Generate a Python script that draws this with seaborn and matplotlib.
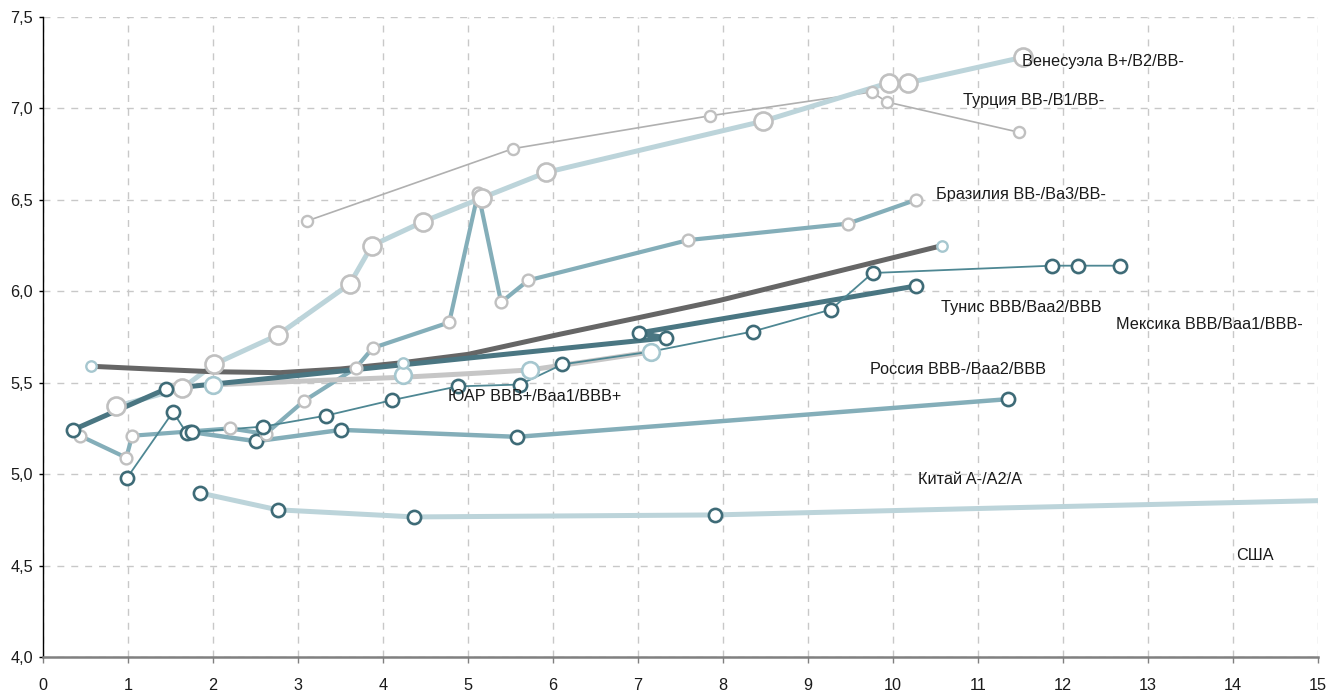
import seaborn as sns
import matplotlib.pyplot as plt
from matplotlib.ticker import FuncFormatter, MultipleLocator

# --- данные ---
# Венесуэла (светло-голубая толстая линия, крупные маркеры)
ven_x = [0.86, 1.64, 2.01, 2.76, 3.61, 3.87, 4.47, 5.16, 5.92, 8.47, 9.95, 10.18, 11.53]
ven_y = [5.37, 5.47, 5.60, 5.76, 6.04, 6.25, 6.38, 6.51, 6.65, 6.93, 7.14, 7.14, 7.28]

# Турция (тонкая серая)
tur_x = [3.11, 5.53, 7.85, 9.75, 9.93, 11.48]
tur_y = [6.385, 6.78, 6.96, 7.09, 7.035, 6.87]

# Бразилия
bra_x = [0.435, 0.98, 1.05, 2.20, 2.62, 3.07, 3.68, 3.88, 4.78, 5.12, 5.39, 5.71, 7.59, 9.47, 10.27]
bra_y = [5.21, 5.09, 5.21, 5.25, 5.22, 5.40, 5.58, 5.69, 5.83, 6.54, 5.94, 6.06, 6.28, 6.37, 6.50]

# Тунис (тёмная толстая)
tun_x = [0.353, 1.447, 7.33, 7.01, 10.27]
tun_y = [5.242, 5.466, 5.745, 5.772, 6.029]

# Китай
chn_x = [1.73, 2.51, 3.51, 5.58, 11.35]
chn_y = [5.231, 5.18, 5.242, 5.204, 5.41]

# Мексика / ЮАР (тонкая линия)
mex_x = [0.99, 1.53, 1.69, 1.75, 2.59, 3.33, 4.11, 4.88, 5.61, 6.11, 7.15, 8.35, 9.27, 9.76, 11.87, 12.18, 12.67]
mex_y = [4.98, 5.34, 5.225, 5.23, 5.26, 5.32, 5.405, 5.48, 5.49, 5.60, 5.67, 5.78, 5.90, 6.10, 6.14, 6.14, 6.14]
mex_mx = [0.99, 1.53, 1.69, 1.75, 2.59, 3.33, 4.11, 4.88, 5.61, 6.11, 8.35, 9.27, 9.76, 11.87, 12.18, 12.67]
mex_my = [4.98, 5.34, 5.225, 5.23, 5.26, 5.32, 5.405, 5.48, 5.49, 5.60, 5.78, 5.90, 6.10, 6.14, 6.14, 6.14]

# тёмно-серая линия
trend_x = [0.565, 1.26, 2.0, 2.79, 3.5, 4.24, 5.0, 6.08, 7.0, 7.96, 9.14, 10.58]
trend_y = [5.59, 5.575, 5.56, 5.555, 5.575, 5.61, 5.655, 5.765, 5.855, 5.95, 6.085, 6.25]
trend_mx = [0.565, 4.24, 10.58]
trend_my = [5.59, 5.61, 6.25]

# Россия (светло-серая толстая)
rus_x = [2.0, 2.79, 4.24, 5.14, 5.73, 6.32, 7.15]
rus_y = [5.488, 5.504, 5.53, 5.553, 5.57, 5.61, 5.668]
rus_mx = [2.0, 4.24, 5.73, 7.15]
rus_my = [5.488, 5.543, 5.57, 5.67]

# США
usa_x = [1.85, 2.76, 4.365, 7.91, 11.26, 15.0]
usa_y = [4.897, 4.805, 4.766, 4.777, 4.815, 4.855]
usa_mx = [1.85, 2.76, 4.365, 7.91]
usa_my = [4.897, 4.805, 4.766, 4.777]

labels = ['Венесуэла B+/B2/BB-', 'Турция BB-/B1/BB-', 'Бразилия BB-/Ba3/BB-',
          'Тунис BBB/Baa2/BBB', 'Мексика BBB/Baa1/BBB-', 'Россия BBB-/Baa2/BBB',
          'ЮАР BBB+/Baa1/BBB+', 'Китай A-/A2/A', 'США']
label_x = [11.52, 10.82, 10.51, 10.56, 12.62, 9.73, 4.765, 10.29, 14.04]
label_y = [7.255, 7.046, 6.527, 5.909, 5.816, 5.570, 5.423, 4.968, 4.553]

# цвета
C_LBLUE = '#bcd4da'
C_TEAL = '#84aeb9'
C_DARK = '#4a7682'
C_THIN = '#4e8793'
C_DGRAY = '#666666'
C_LGRAY = '#c6c6c6'
C_TURK = '#b0b0b0'
E_GRAY = '#c0c0c0'
E_DARK = '#3e6b77'
E_LBLUE = '#a6c7cf'

sns.set_theme(style='white')
plt.rcParams['font.family'] = ['Liberation Sans', 'DejaVu Sans']

fig = plt.figure(figsize=(13.38, 6.91), dpi=100)
ax = fig.add_axes([0.0321, 0.0492, 0.9529, 0.9262])


def line(x, y, color, lw):
    sns.lineplot(x=x, y=y, sort=False, estimator=None, color=color,
                 linewidth=lw, ax=ax, zorder=2, solid_capstyle='round')


def dots(x, y, edge, size, ew):
    sns.scatterplot(x=x, y=y, s=size ** 2, color='white', edgecolor=edge,
                    linewidth=ew, ax=ax, zorder=4, legend=False)


# линии
line(usa_x, usa_y, C_LBLUE, 3.6)
line(chn_x, chn_y, C_TEAL, 3.2)
line(bra_x, bra_y, C_TEAL, 3.0)
line(tur_x, tur_y, C_TURK, 1.2)
line(ven_x, ven_y, C_LBLUE, 3.6)
line(rus_x, rus_y, C_LGRAY, 3.6)
line(trend_x, trend_y, C_DGRAY, 3.6)
line(tun_x, tun_y, C_DARK, 3.6)
line(mex_x, mex_y, C_THIN, 1.3)

# маркеры
dots(usa_mx, usa_my, E_DARK, 9.5, 1.9)
dots(chn_x, chn_y, E_DARK, 9.5, 1.9)
dots(bra_x, bra_y, E_GRAY, 8.5, 1.7)
dots(tur_x, tur_y, E_GRAY, 8, 1.7)
dots(ven_x, ven_y, E_GRAY, 13, 1.9)
dots(rus_mx, rus_my, E_LBLUE, 12, 1.9)
dots(trend_mx, trend_my, E_LBLUE, 7.5, 1.7)
dots(tun_x, tun_y, E_DARK, 9.5, 1.9)
dots(mex_mx, mex_my, E_DARK, 9.5, 1.9)

for s, tx, ty in zip(labels, label_x, label_y):
    ax.text(tx, ty, s, ha='left', va='center', fontsize=11.7, color='#1a1a1a', zorder=5)

ax.set_xlim(0, 15)
ax.set_ylim(4.0, 7.5)
ax.xaxis.set_major_locator(MultipleLocator(1))
ax.yaxis.set_major_locator(MultipleLocator(0.5))
ax.yaxis.set_major_formatter(FuncFormatter(lambda v, p: f'{v:.1f}'.replace('.', ',')))
ax.set_xlabel('')
ax.set_ylabel('')

ax.grid(True, linestyle=(0, (5, 5)), color='#c8c8c8', linewidth=1)
ax.set_axisbelow(True)
sns.despine(ax=ax)
ax.spines['left'].set_color('#000000')
ax.spines['left'].set_linewidth(1.0)
ax.spines['bottom'].set_color('#808080')
ax.spines['bottom'].set_linewidth(1.8)
ax.tick_params(axis='x', direction='out', length=4, width=1, color='#808080',
               labelsize=11.7, pad=11, labelcolor='#1a1a1a', bottom=True)
ax.tick_params(axis='y', direction='out', length=3, width=1, color='#000000',
               labelsize=11.7, pad=4, labelcolor='#1a1a1a', left=True)

fig.savefig('out.png', dpi=100)
